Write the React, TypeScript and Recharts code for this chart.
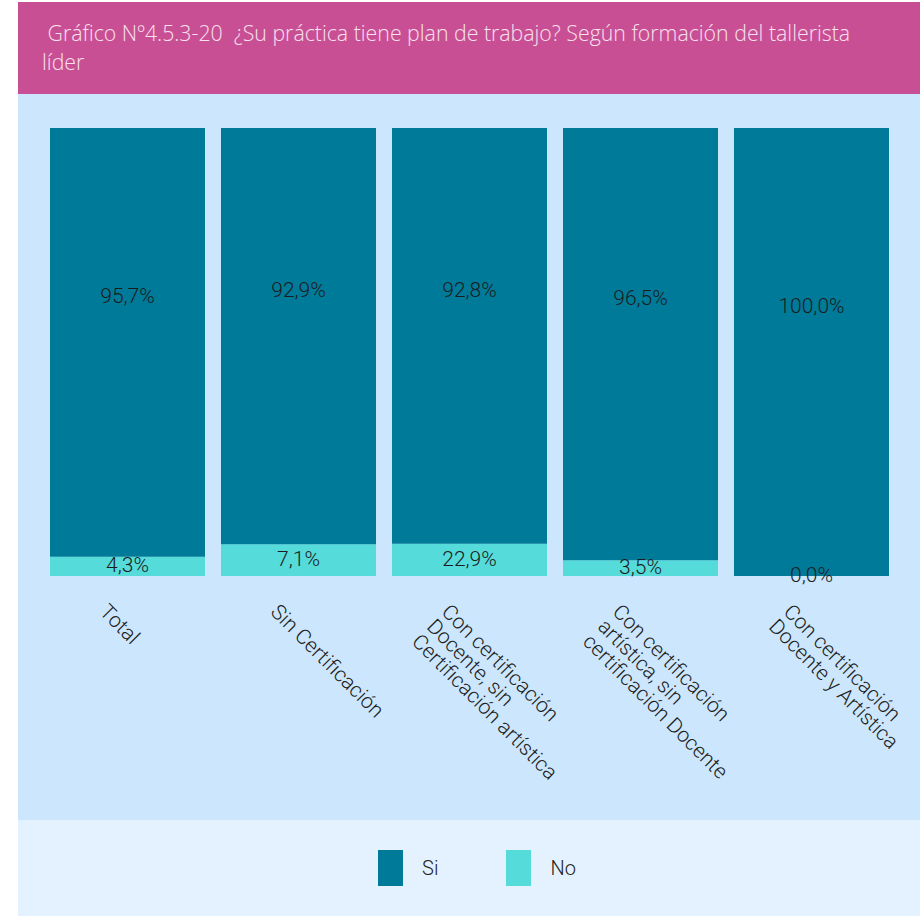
import React from "react";
import { BarChart, Bar, XAxis, YAxis, Legend, LabelList } from "recharts";

const categories = [
  "Total",
  "Sin Certificación",
  "Con certificación\nDocente, sin\nCertificación artística",
  "Con certificación\nartística, sin\ncertificación Docente",
  "Con certificación\nDocente y Artística",
];
const siValues = [95.7, 92.9, 92.8, 96.5, 100.0];
const noValues = [4.3, 7.1, 7.2, 3.5, 0.0];
const siLabels = ["95,7%", "92,9%", "92,8%", "96,5%", "100,0%"];
const noLabels = ["4,3%", "7,1%", "22,9%", "3,5%", "0,0%"];

const SI_COLOR = "#007a99";
const NO_COLOR = "#55dbda";
const FONT = "Roboto, sans-serif";

const data = categories.map((name, i) => ({
  name,
  si: siValues[i],
  no: noValues[i],
  siLabel: siLabels[i],
  noLabel: noLabels[i],
}));

function CategoryTick(props: any) {
  const { x, y, payload } = props;
  const lines = String(payload.value).split("\n");
  return (
    <g transform={`translate(${x - 29}, ${y + 29}) rotate(45)`}>
      <text fontFamily={FONT} fontSize={21} fontWeight={300} fill="#222" textAnchor="start">
        {lines.map((l, i) => (
          <tspan key={i} x={0} dy={i === 0 ? 0 : 21}>
            {l}
          </tspan>
        ))}
      </text>
    </g>
  );
}

function ValueText({ x, y, value }: { x: number; y: number; value: any }) {
  return (
    <text
      x={x}
      y={y}
      dominantBaseline="central"
      textAnchor="middle"
      fontFamily={FONT}
      fontSize={21}
      fontWeight={300}
      fill="#1c1c1c"
    >
      {value}
    </text>
  );
}

function SiLabel(props: any) {
  const { x, y, width, height, value } = props;
  return <ValueText x={x + width / 2} y={y + height / 2 - 46} value={value} />;
}

function NoLabel(props: any) {
  const { x, y, width, height, value } = props;
  if (!height) return null;
  return <ValueText x={x + width / 2} y={y + height / 2 - 1} value={value} />;
}

// zero-height "No" segments draw no rect, so their label sits at the foot of the Si bar
function ZeroNoLabel(props: any) {
  const { x, y, width, height, value, index } = props;
  if (noValues[index] !== 0) return null;
  return <ValueText x={x + width / 2} y={y + height - 1} value={value} />;
}

function LegendBox({ payload }: any) {
  const items = [...(payload || [])].sort((a: any, b: any) =>
    a.dataKey === "si" ? -1 : b.dataKey === "si" ? 1 : 0
  );
  return (
    <div
      style={{
        height: 96,
        display: "flex",
        alignItems: "center",
        justifyContent: "center",
        paddingLeft: 16,
        fontFamily: FONT,
        fontSize: 20,
        fontWeight: 300,
        color: "#222",
      }}
    >
      {items.map((it: any, i: number) => (
        <div key={it.value} style={{ display: "flex", alignItems: "center", marginLeft: i === 0 ? 0 : 68 }}>
          <span style={{ display: "inline-block", width: 25, height: 36, background: it.color }} />
          <span style={{ marginLeft: 19 }}>{it.value}</span>
        </div>
      ))}
    </div>
  );
}

export default function App() {
  return (
    <div
      style={{
        position: "absolute",
        left: 18,
        top: 2,
        width: 902,
        height: 914,
        background: "#cce7fd",
        fontFamily: FONT,
      }}
    >
      <div
        style={{
          height: 92,
          background: "#c94f94",
          color: "#f8e1ee",
          fontFamily: "'Open Sans', sans-serif",
          fontSize: 21.3,
          fontWeight: 300,
          lineHeight: "29px",
          padding: "16px 0 0 24px",
          boxSizing: "border-box",
          whiteSpace: "pre",
        }}
      >
        <div>{" Gráfico Nº4.5.3-20  ¿Su práctica tiene plan de trabajo? Según formación del tallerista"}</div>
        <div>líder</div>
      </div>
      <div style={{ position: "absolute", left: 0, top: 818, width: 902, height: 96, background: "#e3f2fe" }} />
      <div style={{ position: "absolute", left: 0, top: 92 }}>
        <BarChart
          width={902}
          height={822}
          data={data}
          margin={{ top: 34, right: 23, left: 24, bottom: 0 }}
          barCategoryGap={8}
        >
          <XAxis
            dataKey="name"
            axisLine={false}
            tickLine={false}
            interval={0}
            height={244}
            tick={<CategoryTick />}
          />
          <YAxis hide domain={[0, 100]} />
          <Legend
            verticalAlign="bottom"
            height={96}
            content={<LegendBox />}
            wrapperStyle={{ left: 0, width: 902, bottom: 0 }}
          />
          <Bar dataKey="no" name="No" stackId="a" fill={NO_COLOR} isAnimationActive={false}>
            <LabelList dataKey="noLabel" content={<NoLabel />} />
          </Bar>
          <Bar dataKey="si" name="Si" stackId="a" fill={SI_COLOR} isAnimationActive={false}>
            <LabelList dataKey="siLabel" content={<SiLabel />} />
            <LabelList dataKey="noLabel" content={<ZeroNoLabel />} />
          </Bar>
        </BarChart>
      </div>
    </div>
  );
}
